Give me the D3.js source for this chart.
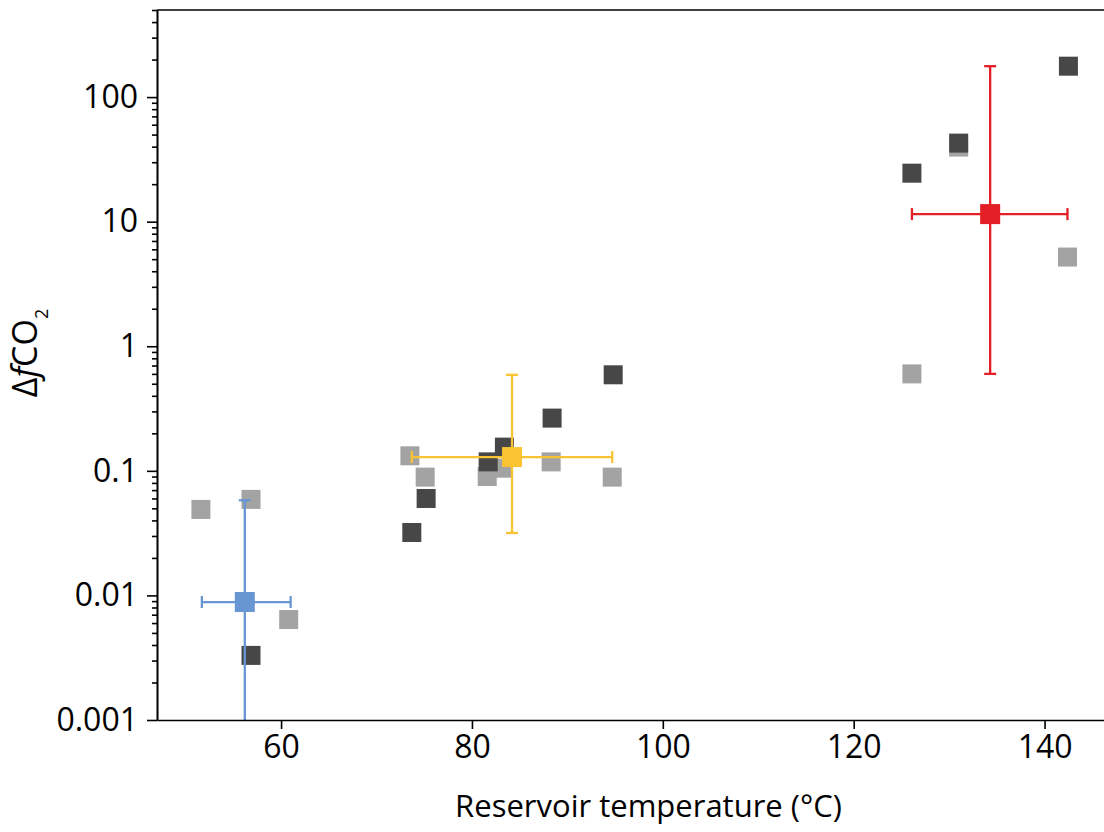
<!DOCTYPE html>
<html>
<head>
<meta charset="utf-8">
<script src="https://cdn.jsdelivr.net/npm/d3@7"></script>
<style>
  body { margin: 0; background: #fff; }
  text { font-family: "Open Sans", "Noto Sans", sans-serif; fill: #000; }
</style>
</head>
<body>
<div id="chart"></div>
<script>
// individual sites, two estimates per site (light and dark squares)
let tempLight = [51.6, 56.85, 60.8, 73.5, 75.1, 81.6, 83.3, 88.3, 94.7, 126.1, 131.0, 142.4];
let fco2Light = [0.049, 0.059, 0.0064, 0.132, 0.089, 0.09, 0.105, 0.118, 0.089, 0.6, 39.7, 5.2];

let tempDark = [56.85, 73.7, 75.2, 81.7, 83.4, 88.4, 94.8, 126.1, 131.0, 142.5];
let fco2Dark = [0.0033, 0.032, 0.06, 0.118, 0.155, 0.265, 0.59, 24.5, 42.7, 177];

// group means with ranges
let meanTemp = [56.2, 84.2, 134.3];
let meanTempLo = [51.7, 73.7, 126.1];
let meanTempHi = [61.0, 94.7, 142.4];
let meanFco2 = [0.00885, 0.129, 11.5];
let meanFco2Lo = [0.0003, 0.0317, 0.6];
let meanFco2Hi = [0.058, 0.59, 177];
let meanColors = ["#6896d3", "#f9c333", "#e31e25"];

let xTicks = [60, 80, 100, 120, 140];
let yTicks = [0.001, 0.01, 0.1, 1, 10, 100];

const width = 1104, height = 832;
const margin = {top: 10, left: 157, right: -36, bottom: 112};

const svg = d3.select("#chart").append("svg")
    .attr("width", width)
    .attr("height", height);

const x = d3.scaleLinear()
    .domain([47, 150])
    .range([margin.left, width - margin.right]);

const y = d3.scaleLog()
    .domain([0.001, 500])
    .range([height - margin.bottom, margin.top]);

svg.append("clipPath").attr("id", "plotclip")
    .append("rect")
    .attr("x", x.range()[0])
    .attr("y", y.range()[1])
    .attr("width", x.range()[1] - x.range()[0])
    .attr("height", y.range()[0] - y.range()[1]);

const plot = svg.append("g").attr("clip-path", "url(#plotclip)");

const sq = 19;

// light squares first, dark on top
plot.append("g")
    .selectAll("rect")
    .data(d3.zip(tempLight, fco2Light))
    .join("rect")
    .attr("x", d => x(d[0]) - sq / 2)
    .attr("y", d => y(d[1]) - sq / 2)
    .attr("width", sq)
    .attr("height", sq)
    .attr("fill", "#a3a3a3");

plot.append("g")
    .selectAll("rect")
    .data(d3.zip(tempDark, fco2Dark))
    .join("rect")
    .attr("x", d => x(d[0]) - sq / 2)
    .attr("y", d => y(d[1]) - sq / 2)
    .attr("width", sq)
    .attr("height", sq)
    .attr("fill", "#474747");

// means with error bars
let means = meanTemp.map((t, i) => ({
    t: t, tLo: meanTempLo[i], tHi: meanTempHi[i],
    f: meanFco2[i], fLo: meanFco2Lo[i], fHi: meanFco2Hi[i],
    color: meanColors[i]
}));

const cap = 6;
const mg = plot.append("g")
    .selectAll("g")
    .data(means)
    .join("g")
    .attr("stroke", d => d.color)
    .attr("stroke-width", 2.3);

mg.append("line")
    .attr("x1", d => x(d.tLo)).attr("x2", d => x(d.tHi))
    .attr("y1", d => y(d.f)).attr("y2", d => y(d.f));
mg.append("line")
    .attr("x1", d => x(d.t)).attr("x2", d => x(d.t))
    .attr("y1", d => y(d.fLo)).attr("y2", d => y(d.fHi));
// caps
mg.append("line")
    .attr("x1", d => x(d.tLo)).attr("x2", d => x(d.tLo))
    .attr("y1", d => y(d.f) - cap).attr("y2", d => y(d.f) + cap);
mg.append("line")
    .attr("x1", d => x(d.tHi)).attr("x2", d => x(d.tHi))
    .attr("y1", d => y(d.f) - cap).attr("y2", d => y(d.f) + cap);
mg.append("line")
    .attr("x1", d => x(d.t) - cap).attr("x2", d => x(d.t) + cap)
    .attr("y1", d => y(d.fHi)).attr("y2", d => y(d.fHi));
mg.append("line")
    .attr("x1", d => x(d.t) - cap).attr("x2", d => x(d.t) + cap)
    .attr("y1", d => y(d.fLo)).attr("y2", d => y(d.fLo));

const msq = 20;
mg.append("rect")
    .attr("x", d => x(d.t) - msq / 2)
    .attr("y", d => y(d.f) - msq / 2)
    .attr("width", msq)
    .attr("height", msq)
    .attr("stroke", "none")
    .attr("fill", d => d.color);

// axes
const fontSize = 32;

svg.append("g")
    .attr("transform", `translate(0,${y.range()[0]})`)
    .call(d3.axisBottom(x).tickValues(xTicks).tickSize(9).tickPadding(6).tickSizeOuter(0));

let minorY = [];
for (let e = -3; e <= 2; e++) {
    for (let m = 2; m <= 9; m++) {
        let v = m * Math.pow(10, e);
        if (v <= 500) minorY.push(+v.toPrecision(3));
    }
}

svg.append("g")
    .attr("transform", `translate(${x.range()[0]},0)`)
    .call(d3.axisLeft(y).tickValues(minorY).tickSize(5).tickFormat("").tickSizeOuter(0));

svg.append("g")
    .attr("transform", `translate(${x.range()[0]},0)`)
    .call(d3.axisLeft(y).tickValues(yTicks).tickSize(10).tickPadding(9)
        .tickFormat(d3.format("~g")).tickSizeOuter(0));

// top spine
svg.append("line")
    .attr("x1", x.range()[0]).attr("x2", x.range()[1])
    .attr("y1", y.range()[1]).attr("y2", y.range()[1])
    .attr("stroke", "#000").attr("stroke-width", 1.6);

svg.selectAll(".domain, .tick line").attr("stroke", "#000").attr("stroke-width", 1.6);
svg.selectAll(".tick text")
    .style("font-size", fontSize + "px")
    .attr("font-family", null)
    .attr("fill", "#000");

// labels
svg.append("text")
    .attr("x", (x.range()[0] + x.range()[1]) / 2)
    .attr("y", 817)
    .attr("text-anchor", "middle")
    .style("font-size", "31px")
    .text("Reservoir temperature (°C)");

const yl = svg.append("text")
    .attr("transform", "translate(37,353) rotate(-90)")
    .attr("text-anchor", "middle")
    .style("font-size", "34px");
yl.append("tspan").text("Δ");
yl.append("tspan").attr("font-style", "italic").text("f");
yl.append("tspan").text("CO");
yl.append("tspan").style("font-size", "18px").attr("dy", 11).text("2");
</script>
</body>
</html>
